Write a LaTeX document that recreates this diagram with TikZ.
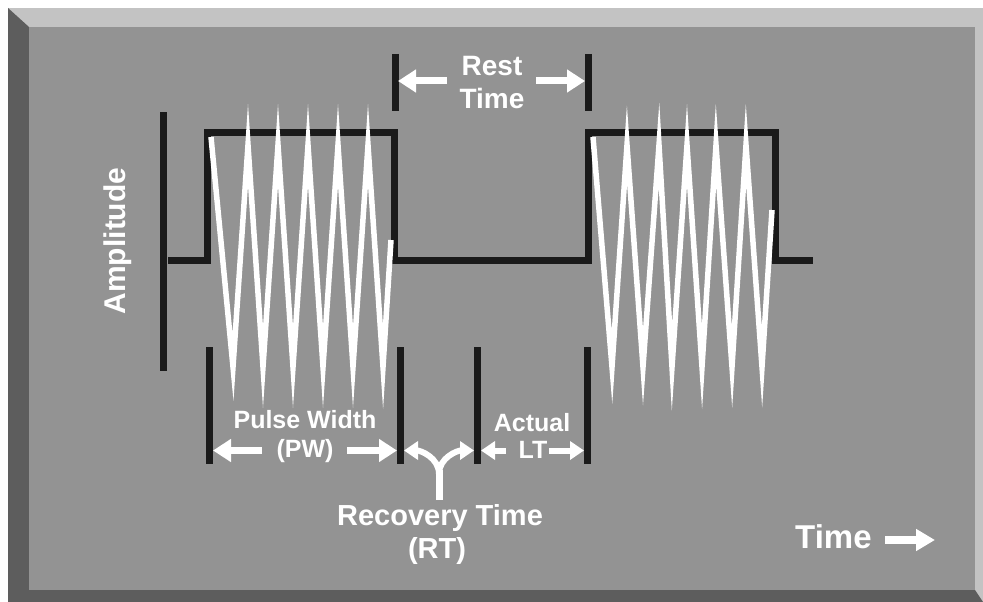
\documentclass[tikz,border=0pt]{standalone}
\usepackage{fontspec}
\setmainfont{Liberation Sans}
\usetikzlibrary{arrows.meta}
\definecolor{face}{RGB}{147,147,147}
\definecolor{lightband}{RGB}{195,195,195}
\definecolor{darkband}{RGB}{93,93,93}
\definecolor{ink}{RGB}{26,26,26}
\begin{document}
\begin{tikzpicture}[x=1pt,y=-1pt,
  bar/.style={draw=ink, line width=7pt, line cap=butt},
  wave/.style={draw=ink, line width=7pt, line join=miter},
  zig/.style={draw=white, line width=5.5pt, line join=miter, miter limit=40},
  warrow/.style={draw=white, line width=7pt, -{Triangle[length=18pt,width=22pt]}},
  sarrow/.style={draw=white, line width=6pt, -{Triangle[length=14pt,width=18pt]}},
  lbl/.style={text=white, inner sep=0pt, anchor=base, font=\bfseries\fontsize{25}{30}\selectfont},
  big/.style={text=white, inner sep=0pt, anchor=base, font=\bfseries\fontsize{29}{34}\selectfont}]
\useasboundingbox (0,0) rectangle (983,602);
% frame
\fill[white] (0,0) rectangle (983,602);
\fill[lightband] (8,8) rectangle (983,602);
\fill[darkband] (8,8) -- (29,27) -- (29,590) -- (975,590) -- (983,602) -- (8,602) -- cycle;
\fill[face] (29,27) rectangle (975,590);
% amplitude axis
\draw[bar] (163,112) -- (163,371);
\node[big, rotate=90, font=\bfseries\fontsize{30}{34}\selectfont] (amp) at (125,241) {Amplitude};
% square wave
\draw[wave] (168,260) -- (207,260) -- (207,132.5) -- (394.5,132.5) -- (394.5,260)
  -- (588.5,260) -- (588.5,132.5) -- (775.5,132.5) -- (775.5,260) -- (813,260);
% bursts
\draw[zig] (211,137) -- (233,367) -- (248,145) -- (263,367) -- (278,145) -- (293,367)
  -- (308,145) -- (323,367) -- (338,145) -- (353,367) -- (368,145) -- (383,367) -- (391,240);
\draw[zig] (593,137) -- (612,367) -- (627,145) -- (643,367) -- (659,145) -- (672,367)
  -- (687,145) -- (702,367) -- (716,145) -- (732,367) -- (746,145) -- (762,367) -- (772,210);
% rest time
\draw[bar] (395,54) -- (395,111);
\draw[bar] (588,54) -- (588,111);
\node[big, font=\bfseries\fontsize{28}{34}\selectfont] (rest) at (492,75) {Rest};
\node[big, font=\bfseries\fontsize{28}{34}\selectfont] (restt) at (492,108) {Time};
\coordinate (rl0) at (447,81); \coordinate (rl1) at (398,81);
\coordinate (rr0) at (536,81); \coordinate (rr1) at (585,81);
\draw[warrow] (rl0) -- (rl1);
\draw[warrow] (rr0) -- (rr1);
% bottom markers
\draw[bar] (209.5,347) -- (209.5,464);
\draw[bar] (400.5,347) -- (400.5,464);
\draw[bar] (477,347) -- (477,464);
\draw[bar] (587,347) -- (587,464);
% pulse width
\node[lbl] (pw) at (305,428) {Pulse Width};
\node[lbl] (pwa) at (305,457) {(PW)};
\coordinate (pl0) at (262,450.5); \coordinate (pl1) at (213,450.5);
\coordinate (pr0) at (347,450.5); \coordinate (pr1) at (397,450.5);
\draw[warrow] (pl0) -- (pl1);
\draw[warrow] (pr0) -- (pr1);
% actual LT
\node[lbl] (act) at (532,431) {Actual};
\node[lbl] (lt) at (533,458) {LT};
\coordinate (ll0) at (506,450.5); \coordinate (ll1) at (481,450.5);
\coordinate (lr0) at (549,450.5); \coordinate (lr1) at (584,450.5);
\draw[sarrow] (ll0) -- (ll1);
\draw[sarrow] (lr0) -- (lr1);
% recovery time
\coordinate (stem0) at (439,500); \coordinate (stem1) at (439,470);
\coordinate (yl) at (404,450.5); \coordinate (yr) at (474,450.5);
\draw[draw=white, line width=7pt] (stem0) -- (stem1);
\draw[sarrow, line width=6pt] (439,474) to[out=90,in=0] (yl);
\draw[sarrow, line width=6pt] (439,474) to[out=90,in=180] (yr);
\node[big] (rec) at (440,525) {Recovery Time};
\node[big] (rt) at (437,558) {(RT)};
% time axis label
\node[big, font=\bfseries\fontsize{33}{38}\selectfont, anchor=base west] (time) at (795,548) {Time};
\coordinate (t0) at (885,540); \coordinate (t1) at (935,540);
\draw[draw=white, line width=8pt, -{Triangle[length=19pt,width=21pt]}] (t0) -- (t1);
\end{tikzpicture}
\end{document}
